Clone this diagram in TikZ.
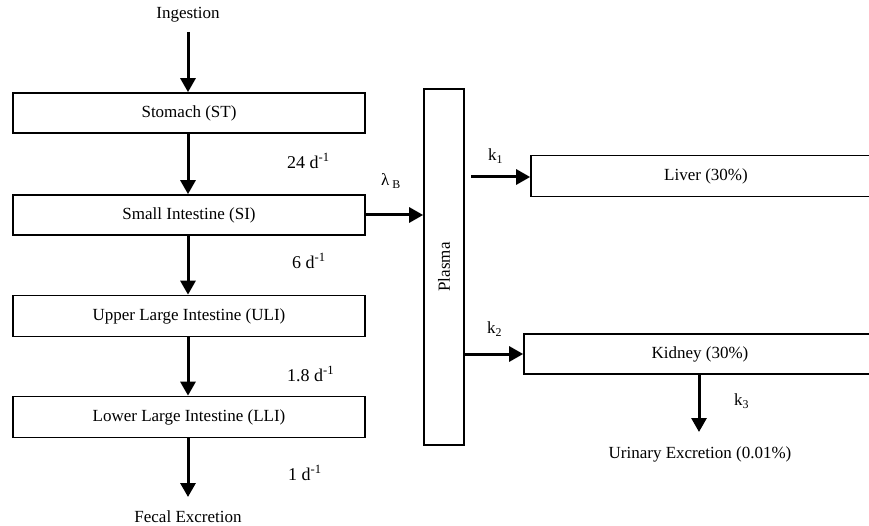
\documentclass[tikz,border=0pt]{standalone}
\usepackage{fontspec}
\setmainfont{Liberation Serif}
\usetikzlibrary{arrows.meta}
\begin{document}
\begin{tikzpicture}[x=1pt,y=-1pt,
  box/.style={draw, line width=1.7pt, inner sep=0pt, font=\fontsize{17}{20}\selectfont},
  flow/.style={line width=3pt, -{Triangle[width=15pt,length=14pt]}},
  txt/.style={inner sep=0pt, font=\fontsize{17}{20}\selectfont},
  rate/.style={inner sep=0pt, anchor=west, font=\fontsize{18}{20}\selectfont}]
\useasboundingbox (0,0) rectangle (869,526);
\clip (0,0) rectangle (869,526);
% left column
\node[txt] (ing) at (188,15) {Ingestion};
\node[box, minimum width=352pt, minimum height=40pt] (st) at (189,113) {Stomach (ST)};
\node[box, minimum width=352pt, minimum height=40pt] (si) at (189,215) {Small Intestine (SI)};
\node[box, minimum width=352pt, minimum height=41pt] (uli) at (189,316) {Upper Large Intestine (ULI)};
\node[box, minimum width=352pt, minimum height=41pt] (lli) at (189,417) {Lower Large Intestine (LLI)};
\node[txt] (fec) at (188,517) {Fecal Excretion};
\coordinate (ingstart) at (188,32);
\coordinate (fecend) at (188,497);
\draw[flow] (ingstart) -- (ingstart |- st.north);
\draw[flow] (st.south -| ingstart) -- (ingstart |- si.north);
\draw[flow] (si.south -| ingstart) -- (ingstart |- uli.north);
\draw[flow] (uli.south -| ingstart) -- (ingstart |- lli.north);
\draw[flow] (lli.south -| ingstart) -- (fecend);
\node[rate] (r1) at (287,161) {24 d\textsuperscript{-1}};
\node[rate] (r2) at (292,261) {6 d\textsuperscript{-1}};
\node[rate] (r3) at (287,374) {1.8 d\textsuperscript{-1}};
\node[rate] (r4) at (288,473) {1 d\textsuperscript{-1}};
% plasma
\node[box, minimum width=40pt, minimum height=356pt] (plasma) at (444,267) {};
\node[txt, rotate=90] (plasmatxt) at (444,267) {Plasma};
\draw[flow] (si.east) -- (si.east -| plasma.west);
\node[txt, anchor=west] (lam) at (381,181) {λ\,\textsubscript{B}};
% liver and kidney
\node[box, minimum width=350pt, minimum height=41pt] (liver) at (706,176) {Liver (30\%)};
\node[box, minimum width=352pt, minimum height=40pt] (kidney) at (700,354) {Kidney (30\%)};
\coordinate (k1start) at (471,177);
\draw[flow] (k1start) -- (k1start -| liver.west);
\draw[flow] (plasma.east |- kidney.west) -- (kidney.west);
\node[txt, anchor=west] (k1) at (488,156) {k\textsubscript{1}};
\node[txt, anchor=west] (k2) at (487,329) {k\textsubscript{2}};
\coordinate (urend) at (699,432);
\draw[flow] (urend |- kidney.south) -- (urend);
\node[txt, anchor=west] (k3) at (734,401) {k\textsubscript{3}};
\node[txt] (uri) at (700,454) {Urinary Excretion (0.01\%)};
\end{tikzpicture}
\end{document}
